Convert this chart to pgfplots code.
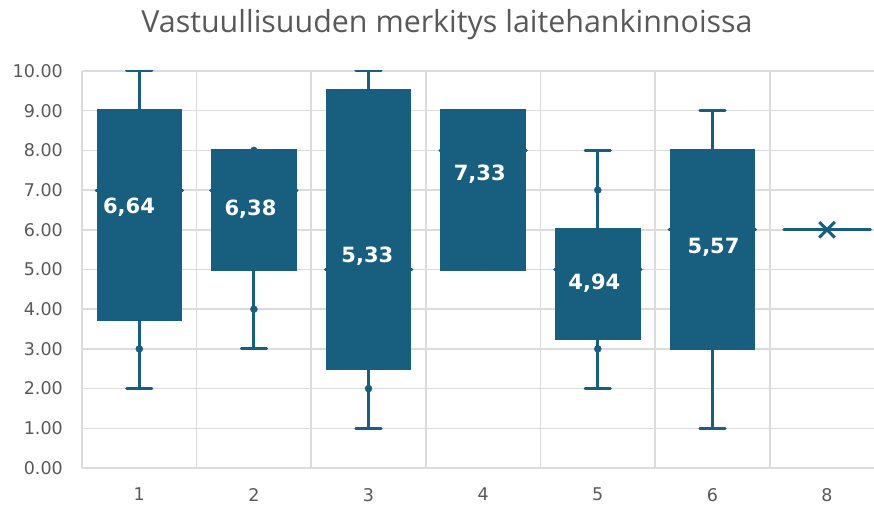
\documentclass[border=0pt]{standalone}
\usepackage{fontspec}
\setmainfont{DejaVu Sans}
\newfontfamily\titlefont{Open Sans}
\usepackage{pgfplots}
\usepackage{pgfplotstable}
\pgfplotsset{compat=1.18}
\usepgfplotslibrary{statistics}

\definecolor{boxc}{RGB}{23,94,127}
\definecolor{txtc}{RGB}{89,89,89}
\definecolor{gridc}{RGB}{220,220,220}

% group means; x/y give where each label sits in the chart
\pgfplotstableread{
x y lab
0.91 6.57 6,64
1.97 6.52 6,38
2.99 5.33 5,33
3.97 7.40 7,33
4.97 4.66 4,94
6.01 5.57 5,57
}\means

\begin{document}
\begin{tikzpicture}
\begin{axis}[
  scale only axis, width=792pt, height=397pt,
  xmin=0.5, xmax=7.41, ymin=0, ymax=10,
  axis x line*=bottom, axis y line*=left,
  axis line style={-, draw=gridc, line width=1.6pt},
  xtick={1,...,7}, xticklabels={1,2,3,4,5,6,8},
  minor xtick={1.5,2.5,...,6.5},
  ytick={0,1,...,10},
  xminorgrids, ymajorgrids,
  grid style={draw=gridc, line width=1.6pt},
  minor grid style={draw=gridc, line width=1.6pt},
  major tick length=0pt, minor tick length=0pt,
  tick label style={font=\fontsize{17.5}{19}\selectfont, text=txtc, inner sep=0pt},
  yticklabel={\pgfmathprintnumber[fixed,fixed zerofill,precision=2,assume math mode=true]{\tick}},
  yticklabel style={xshift=-19pt},
  xticklabel style={yshift=-20pt},
  boxplot/draw direction=y,
  boxplot/box extend=0.72,
  boxplot/whisker extend=0.22,
  boxplot/every box/.style={draw=boxc, fill=boxc, line width=3pt},
  boxplot/every whisker/.style={draw=boxc, line width=3pt, line cap=round},
  boxplot/every median/.style={draw=boxc, line width=3pt, line cap=round,
    shorten <=-2pt, shorten >=-2pt},
]
\addplot[boxplot prepared={draw position=1, lower whisker=2, lower quartile=3.75,
  median=7, upper quartile=9, upper whisker=10}] coordinates {};
\addplot[boxplot prepared={draw position=2, lower whisker=3, lower quartile=5,
  median=7, upper quartile=8, upper whisker=8}] coordinates {};
\addplot[boxplot prepared={draw position=3, lower whisker=1, lower quartile=2.5,
  median=5, upper quartile=9.5, upper whisker=10}] coordinates {};
\addplot[boxplot prepared={draw position=4, lower whisker=5, lower quartile=5,
  median=8, upper quartile=9, upper whisker=9}] coordinates {};
\addplot[boxplot prepared={draw position=5, lower whisker=2, lower quartile=3.25,
  median=5, upper quartile=6, upper whisker=8}] coordinates {};
\addplot[boxplot prepared={draw position=6, lower whisker=1, lower quartile=3,
  median=6, upper quartile=8, upper whisker=9}] coordinates {};
\addplot[boxplot prepared={draw position=7, lower whisker=6, lower quartile=6,
  median=6, upper quartile=6, upper whisker=6}] coordinates {};
% inner points
\addplot[only marks, mark=*, mark size=3.5pt, color=boxc]
  coordinates {(1,3) (2,4) (2,8) (3,2) (5,7) (5,3)};
% mean marker of group 8
\addplot[only marks, mark=x, mark size=11pt, line width=3pt, color=boxc]
  coordinates {(7,6)};
% mean labels
\addplot[draw=none, mark=none, nodes near coords, point meta=explicit symbolic,
  nodes near coords align=center,
  every node near coord/.append style={font=\fontsize{21}{24}\selectfont\bfseries,
    text=white, inner sep=0pt}]
  table[meta=lab] {\means};
\end{axis}
\node[font=\titlefont\fontsize{30.4}{34}\selectfont, text=txtc]
  at ([xshift=365pt,yshift=46pt]current axis.north west)
  {Vastuullisuuden merkitys laitehankinnoissa};
\pgfresetboundingbox
\path[use as bounding box] ([xshift=-82pt,yshift=-38pt]current axis.south west)
  rectangle ([yshift=71pt]current axis.north east);
\end{tikzpicture}
\end{document}
